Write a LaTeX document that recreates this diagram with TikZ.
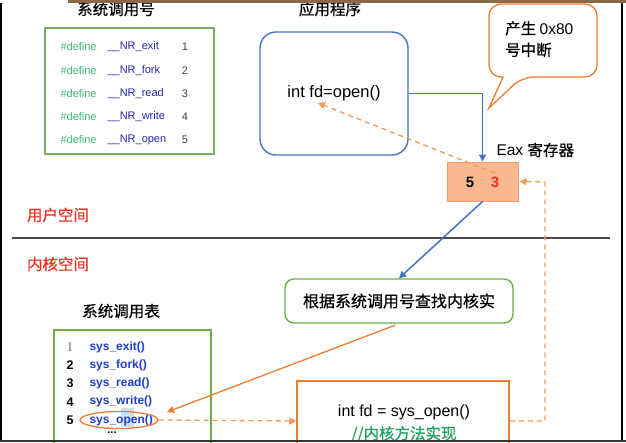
\documentclass[tikz,border=0pt]{standalone}
\usepackage{fontspec}
\setmainfont{Liberation Sans}
\newfontfamily\cjk[FakeBold=0.6]{Noto Sans CJK SC}
\newfontfamily\serifI{Liberation Serif}
\usetikzlibrary{arrows.meta,shapes.geometric}
\definecolor{gborder}{HTML}{7EAB5E}
\definecolor{gbox}{HTML}{70AD47}
\definecolor{defgreen}{HTML}{3CB878}
\definecolor{nrblue}{HTML}{2828B0}
\definecolor{sysblue}{HTML}{1F3FCC}
\definecolor{org}{HTML}{ED7D31}
\definecolor{orgl}{HTML}{F29A58}
\definecolor{eaxfill}{HTML}{F8B890}
\definecolor{eaxdraw}{HTML}{F09A70}
\definecolor{redtxt}{HTML}{F03020}
\definecolor{appblue}{HTML}{4472C4}
\definecolor{cmtgreen}{HTML}{22A060}
\definecolor{barbrown}{HTML}{8A6A42}
\definecolor{hl}{HTML}{CFE0F5}
\tikzset{
  fs/.style={font=\fontsize{#1}{#1}\selectfont},
  cjkt/.style={font=\cjk\fontsize{#1}{#1}\selectfont},
  deftxt/.style={anchor=west, text=defgreen, fs=11},
  nrtxt/.style={anchor=west, text=nrblue, fs=11},
  numtxt/.style={text=black!75, fs=11},
  systxt/.style={anchor=west, text=sysblue, font=\bfseries\fontsize{12}{12}\selectfont},
  snum/.style={text=black, font=\bfseries\fontsize{12.5}{12.5}\selectfont},
  conn/.style={line width=1.5pt},
  arr/.style={-{Triangle[length=7pt,width=7pt]}},
  odash/.style={orgl, line width=1.3pt, dash pattern=on 5pt off 4pt},
}
\begin{document}
\begin{tikzpicture}[x=1pt,y=-1pt]
\useasboundingbox (0,0) rectangle (626,442);
\fill[white] (0,0) rectangle (626,442);

% ---------- upper left: syscall numbers ----------
\node[cjkt=15.5] (t1) at (116,9) {系统调用号};
\node[draw=gborder, line width=1.6pt, minimum width=169pt, minimum height=126pt] (defbox) at (129.5,91) {};
\foreach \n/\nm [count=\i] in {1/exit,2/fork,3/read,4/write,5/open}{
  \pgfmathsetmacro{\yy}{47+23.25*(\i-1)}
  \node[deftxt] (d\i) at (57,\yy) {\#define};
  \node[nrtxt] (nr\i) at (104,\yy) {\_\_NR\_\nm};
  \node[numtxt] (n\i) at (185,\yy) {\n};
}

% ---------- application ----------
\node[cjkt=15.5] (t2) at (330,9) {应用程序};
\node[draw=appblue, line width=1.4pt, rounded corners=16pt, minimum width=148pt, minimum height=123pt, fs=16.5] (app) at (334,93.5) {int fd=open()};

% ---------- Eax register ----------
\node[draw=eaxdraw, fill=eaxfill, line width=1pt, minimum width=71pt, minimum height=39pt] (eax) at (482.5,181.5) {};
\node[font=\bfseries\fontsize{15}{15}\selectfont] (r5) at (470,182) {5};
\node[font=\bfseries\fontsize{15}{15}\selectfont, text=redtxt] (r3) at (495,182) {3};
\node[anchor=west, fs=15.5] (eaxl) at (493,150) {Eax {\cjk 寄存器}};

% ---------- callout ----------
\draw[org, line width=1.3pt, fill=white, rounded corners=12pt] (503,77) -- (489,77) -- (489,4) -- (597,4) -- (597,77) -- (522,77) [sharp corners] -- (489,108) -- cycle;
\node[anchor=north west, align=left, cjkt=15.5, inner sep=0pt] (co) at (505,21) {产生 {\fontspec{Liberation Sans}0x80}\\[6pt]号中断};

% ---------- connectors upper ----------
\draw[appblue, conn, arr] (app.east) -| (eax.north);
\coordinate (fdtip) at (318,103);
\draw[odash, arr] (r3.north) -- (fdtip);

% ---------- user/kernel ----------
\node[cjkt=15.5, text=redtxt] (user) at (58,215) {用户空间};
\coordinate (sepL) at (12,238);
\coordinate (sepR) at (610,238);
\draw[black!70, line width=1.6pt] (sepL) -- (sepR);
\node[cjkt=15.5, text=redtxt] (kern) at (58,264) {内核空间};

% ---------- find node ----------
\node[draw=gbox, line width=1.4pt, rounded corners=9pt, minimum width=228pt, minimum height=44pt, cjkt=16] (find) at (399,301) {根据系统调用号查找内核实};
\draw[appblue, conn, arr] (eax.south) -- (find.north);

% ---------- syscall table ----------
\node[cjkt=15.5] (t3) at (121,311) {系统调用表};
\fill[hl] (121,408) rectangle (134,427);
\draw[gbox, line width=1.5pt] (54,445) -- (54,330) -- (211,330) -- (211,445);
\node[text=black!55, font=\serifI\fontsize{13}{13}\selectfont] (s1n) at (70,347) {I};
\foreach \n/\nm [count=\i] in {1/exit,2/fork,3/read,4/write,5/open}{
  \pgfmathsetmacro{\yy}{347+18.25*(\i-1)}
  \ifnum\i>1 \node[snum] (s\i n) at (70,\yy) {\n}; \fi
  \node[systxt] (s\i) at (86,\yy) {sys\_\nm()};
}
\node[font=\bfseries\fontsize{11}{11}\selectfont] (dots) at (112,433) {...};
\node[draw=org, line width=1.3pt, ellipse, minimum width=78pt, minimum height=17pt, inner sep=0pt] (ell) at (119,420) {};

% ---------- implementation box ----------
\node[draw=org, line width=1.5pt, minimum width=212pt, minimum height=80pt] (impl) at (403,421) {};
\begin{scope}
\clip (0,0) rectangle (626,440);
\node[fs=16] (implt) at (404,412) {int fd = sys\_open()};
\node[cjkt=15.5, text=cmtgreen] (implc) at (404,434) {//内核方法实现};
\end{scope}

% ---------- lower connectors ----------
\coordinate (tipA) at (167,412);
\draw[org, line width=1.3pt, arr, shorten <=4pt] (find.south) -- (tipA);
\draw[odash, arr] (ell.east) -- (impl.west);
\coordinate (rb) at (545,421);
\coordinate (rt) at (545,182);
\draw[odash, arr] (impl.east) -- (rb) -- (rt) -- ([xshift=1pt]eax.east);

% ---------- screenshot frame ----------
\fill[white] (0,440) rectangle (626,442);
\fill[barbrown] (68,0) rectangle (626,3);
\draw[black, line width=1.5pt] (0.75,3) -- (0.75,440);
\draw[black, line width=1.8pt] (622,3) -- (622,440);
\fill[black!80] (0,440) rectangle (626,442);
\end{tikzpicture}
\end{document}
